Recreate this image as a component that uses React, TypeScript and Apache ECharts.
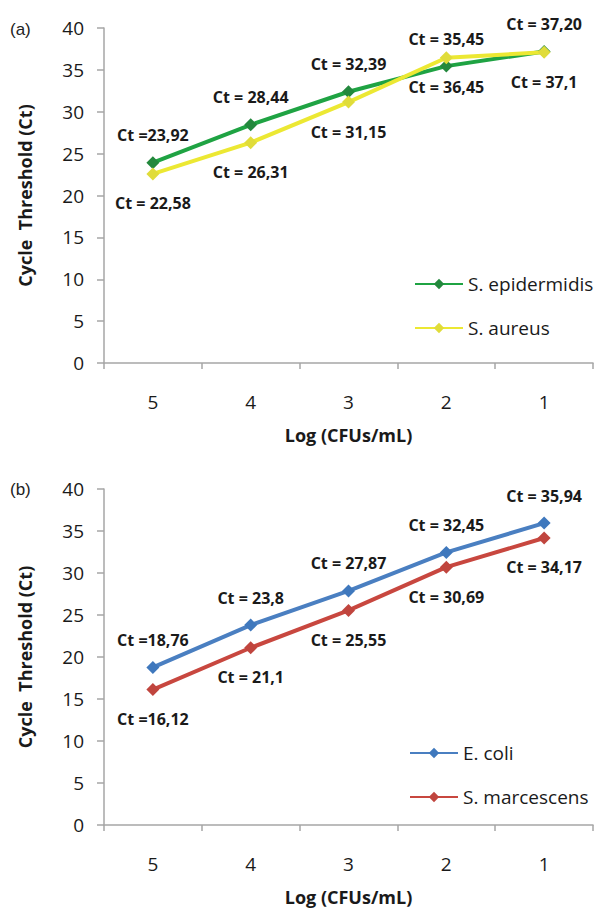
import React, { useEffect, useRef } from 'react';
import * as echarts from 'echarts';

const categories = ['5', '4', '3', '2', '1'];
const sEpidermidis = [23.92, 28.44, 32.39, 35.45, 37.2];
const sAureus = [22.58, 26.31, 31.15, 36.45, 37.1];
const eColi = [18.76, 23.8, 27.87, 32.45, 35.94];
const sMarcescens = [16.12, 21.1, 25.55, 30.69, 34.17];
const labelsEpi = ['Ct =23,92', 'Ct = 28,44', 'Ct = 32,39', 'Ct = 35,45', 'Ct = 37,20'];
const labelsAur = ['Ct = 22,58', 'Ct = 26,31', 'Ct = 31,15', 'Ct = 36,45', 'Ct = 37,1'];
const labelsColi = ['Ct =18,76', 'Ct = 23,8', 'Ct = 27,87', 'Ct = 32,45', 'Ct = 35,94'];
const labelsMarc = ['Ct =16,12', 'Ct = 21,1', 'Ct = 25,55', 'Ct = 30,69', 'Ct = 34,17'];

const FONT = '"Open Sans", Lato, sans-serif';
const TEXT = '#1a1a1a';
const AXIS = '#a6a6a6';

function mkSeries(name: string, data: number[], labels: string[], color: string, symColor: string, idx: number, above: boolean, z: number) {
  return {
    type: 'line',
    name,
    xAxisIndex: idx,
    yAxisIndex: idx,
    data,
    symbol: 'diamond',
    symbolSize: 13,
    z,
    lineStyle: { color, width: 4 },
    itemStyle: { color: symColor },
    label: {
      show: true,
      position: above ? 'top' : 'bottom',
      distance: above ? 13 : 15,
      formatter: (p: any) => labels[p.dataIndex],
      fontFamily: FONT,
      fontWeight: 'bold',
      fontSize: 16,
      color: TEXT,
    },
  };
}

function mkX(idx: number) {
  return {
    type: 'category',
    gridIndex: idx,
    data: categories,
    boundaryGap: true,
    axisLine: { lineStyle: { color: AXIS, width: 1.5 } },
    axisTick: { show: true, length: 6, lineStyle: { color: AXIS, width: 1.5 } },
    axisLabel: { margin: 29, fontFamily: FONT, fontSize: 19, color: TEXT },
    name: 'Log (CFUs/mL)',
    nameLocation: 'middle',
    nameGap: 63,
    nameTextStyle: { fontFamily: FONT, fontWeight: 'bold', fontSize: 18, color: TEXT },
  };
}

function mkY(idx: number) {
  return {
    type: 'value',
    gridIndex: idx,
    min: 0,
    max: 40,
    interval: 5,
    splitLine: { show: false },
    axisLine: { show: true, lineStyle: { color: AXIS, width: 1.5 } },
    axisTick: { show: true, length: 7, lineStyle: { color: AXIS, width: 1.5 } },
    axisLabel: { margin: 20, fontFamily: FONT, fontSize: 19, color: TEXT },
    name: 'Cycle  Threshold (Ct)',
    nameLocation: 'middle',
    nameRotate: 90,
    nameGap: 70,
    nameTextStyle: { fontFamily: FONT, fontWeight: 'bold', fontSize: 18, color: TEXT },
  };
}

function mkLegend(names: string[], left: number, top: number) {
  return {
    orient: 'vertical',
    left,
    top,
    itemWidth: 48,
    itemHeight: 13,
    itemGap: 22,
    data: names,
    textStyle: { fontFamily: FONT, fontSize: 19, color: TEXT, lineHeight: 22 },
  };
}

export default function App() {
  const ref = useRef<HTMLDivElement>(null);
  useEffect(() => {
    if (!ref.current) return;
    const chart = echarts.init(ref.current, null, { renderer: 'svg' });
    chart.setOption({
      animation: false,
      backgroundColor: '#ffffff',
      grid: [
        { left: 104, top: 28, width: 489, height: 335 },
        { left: 104, top: 489, width: 489, height: 336 },
      ],
      xAxis: [mkX(0), mkX(1)],
      yAxis: [mkY(0), mkY(1)],
      legend: [
        mkLegend(['S. epidermidis', 'S. aureus'], 409, 268),
        mkLegend(['E. coli', 'S. marcescens'], 404, 737),
      ],
      graphic: [
        { type: 'text', x: 10, y: 29, style: { text: '(a)', font: '17px "Liberation Sans", Arial, sans-serif', fill: '#222', verticalAlign: 'middle' } },
        { type: 'text', x: 10, y: 489, style: { text: '(b)', font: '17px "Liberation Sans", Arial, sans-serif', fill: '#222', verticalAlign: 'middle' } },
      ],
      series: [
        mkSeries('S. epidermidis', sEpidermidis, labelsEpi, '#1fa343', '#23883d', 0, true, 2),
        mkSeries('S. aureus', sAureus, labelsAur, '#ece833', '#e0dc3a', 0, false, 3),
        mkSeries('E. coli', eColi, labelsColi, '#4a7fc1', '#3f78bd', 1, true, 2),
        mkSeries('S. marcescens', sMarcescens, labelsMarc, '#c8473f', '#c0453e', 1, false, 3),
      ],
    });
    return () => chart.dispose();
  }, []);
  return <div ref={ref} style={{ position: 'absolute', left: 0, top: 0, width: 599, height: 909 }} />;
}
